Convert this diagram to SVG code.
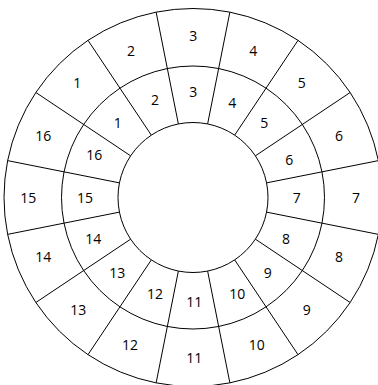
<svg xmlns="http://www.w3.org/2000/svg" width="378" height="385" viewBox="0 0 378 385">
<style>
.ring{fill:none;stroke:#000;stroke-width:1}
.div{stroke:#000;stroke-width:1}
text{font-family:"Open Sans","Noto Sans",sans-serif;font-size:14px;fill:#000;text-anchor:middle}
</style>
<rect width="378" height="385" fill="#fff"/>
<g id="rings">
<circle class="ring" cx="193" cy="197.5" r="189"/>
<circle class="ring" cx="193" cy="197.5" r="131.5"/>
<circle class="ring" cx="193" cy="197.5" r="75"/>
</g>
<g id="connectors">
<line class="div" x1="266.56" y1="212.13" x2="378.37" y2="234.37"/>
<line class="div" x1="255.36" y1="239.17" x2="350.15" y2="302.50"/>
<line class="div" x1="234.67" y1="259.86" x2="298.00" y2="354.65"/>
<line class="div" x1="207.63" y1="271.06" x2="229.87" y2="382.87"/>
<line class="div" x1="178.37" y1="271.06" x2="156.13" y2="382.87"/>
<line class="div" x1="151.33" y1="259.86" x2="88.00" y2="354.65"/>
<line class="div" x1="130.64" y1="239.17" x2="35.85" y2="302.50"/>
<line class="div" x1="119.44" y1="212.13" x2="7.63" y2="234.37"/>
<line class="div" x1="119.44" y1="182.87" x2="7.63" y2="160.63"/>
<line class="div" x1="130.64" y1="155.83" x2="35.85" y2="92.50"/>
<line class="div" x1="151.33" y1="135.14" x2="88.00" y2="40.35"/>
<line class="div" x1="178.37" y1="123.94" x2="156.13" y2="12.13"/>
<line class="div" x1="207.63" y1="123.94" x2="229.87" y2="12.13"/>
<line class="div" x1="234.67" y1="135.14" x2="298.00" y2="40.35"/>
<line class="div" x1="255.36" y1="155.83" x2="350.15" y2="92.50"/>
<line class="div" x1="266.56" y1="182.87" x2="378.37" y2="160.63"/>
</g>
<g id="inner-labels">
<text id="m1" x="117.7" y="128.3">1</text>
<text id="m2" x="155" y="105">2</text>
<text id="m3" x="193.3" y="96.7">3</text>
<text id="m4" x="232.3" y="108.3">4</text>
<text id="m5" x="264.3" y="128.3">5</text>
<text id="m6" x="289.3" y="165">6</text>
<text id="m7" x="296.7" y="203.3">7</text>
<text id="m8" x="286" y="244">8</text>
<text id="m9" x="267.7" y="277.7">9</text>
<text id="m10" x="237.3" y="299">10</text>
<text id="m11" x="194.3" y="307.3">11</text>
<text id="m12" x="155" y="299">12</text>
<text id="m13" x="117.3" y="278.3">13</text>
<text id="m14" x="93.3" y="244">14</text>
<text id="m15" x="85" y="203.3">15</text>
<text id="m16" x="94.3" y="160">16</text>
</g>
<g id="outer-labels">
<text id="o1" x="77.3" y="88.3">1</text>
<text id="o2" x="131" y="55.7">2</text>
<text id="o3" x="193.3" y="41">3</text>
<text id="o4" x="253.3" y="55.7">4</text>
<text id="o5" x="301.7" y="88.3">5</text>
<text id="o6" x="339" y="141">6</text>
<text id="o7" x="356" y="203.3">7</text>
<text id="o8" x="339" y="261.7">8</text>
<text id="o9" x="306.7" y="315">9</text>
<text id="o10" x="256.7" y="350">10</text>
<text id="o11" x="194.3" y="363.3">11</text>
<text id="o12" x="130" y="350">12</text>
<text id="o13" x="78.3" y="315">13</text>
<text id="o14" x="43.3" y="261.7">14</text>
<text id="o15" x="28.3" y="203.3">15</text>
<text id="o16" x="43.3" y="141">16</text>
</g>
</svg>
